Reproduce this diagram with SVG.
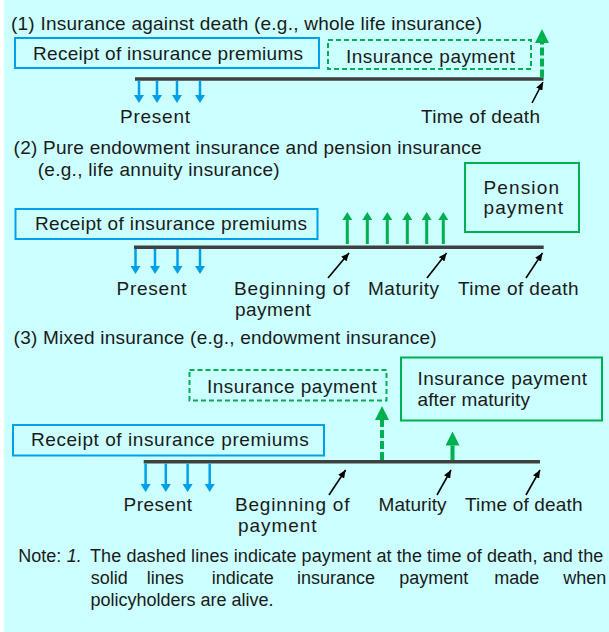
<svg xmlns="http://www.w3.org/2000/svg" width="609" height="632" viewBox="0 0 609 632">
<style>
text{font-family:"Liberation Sans",Arial,sans-serif;font-size:19px;fill:#1a1a1a}
#note text{font-size:18px}
.bb{fill:none;stroke:#00A0E9;stroke-width:2}
.gs{fill:none;stroke:#00B050;stroke-width:2}
.gd{fill:none;stroke:#00B050;stroke-width:2;stroke-dasharray:5 3}
.tl{stroke:#404040;stroke-width:3.5}
.ab{stroke:#00A0E9;stroke-width:2.5;marker-end:url(#hb)}
.ag{stroke:#00B050;stroke-width:3;marker-end:url(#hg)}
.agl{stroke:#00B050;stroke-width:4;marker-end:url(#hgl)}
.agd{stroke:#00B050;stroke-width:4;stroke-dasharray:8 3;marker-end:url(#hgl)}
.ak{stroke:#000;stroke-width:1.6;marker-end:url(#hk)}
</style>
<defs>
<marker id="hb" viewBox="0 0 8 10" markerWidth="8" markerHeight="10" refX="0" refY="5" orient="auto" markerUnits="userSpaceOnUse"><path d="M0,0L8,5L0,10z" fill="#00A0E9"/></marker>
<marker id="hg" viewBox="0 0 8 10" markerWidth="8" markerHeight="10" refX="0" refY="5" orient="auto" markerUnits="userSpaceOnUse"><path d="M0,0L8,5L0,10z" fill="#00B050"/></marker>
<marker id="hgl" viewBox="0 0 14 14" markerWidth="14" markerHeight="14" refX="0" refY="7" orient="auto" markerUnits="userSpaceOnUse"><path d="M0,0L14,7L0,14z" fill="#00B050"/></marker>
<marker id="hk" viewBox="0 0 8 7" markerWidth="8" markerHeight="7" refX="8" refY="3.5" orient="auto" markerUnits="userSpaceOnUse"><path d="M0,0L8,3.5L0,7z" fill="#000"/></marker>
</defs>
<rect x="4" y="0" width="605" height="632" fill="#CCFFFF"/>

<g id="titles">
<text x="11" y="30" textLength="471">(1) Insurance against death (e.g., whole life insurance)</text>
<text x="13.6" y="154" textLength="468">(2) Pure endowment insurance and pension insurance</text>
<text x="37.7" y="176" textLength="242">(e.g., life annuity insurance)</text>
<text x="13.6" y="344" textLength="423">(3) Mixed insurance (e.g., endowment insurance)</text>
</g>

<g id="s1-premiums"><rect class="bb" x="15" y="38" width="304" height="30"/><text x="33" y="60" textLength="270">Receipt of insurance premiums</text></g>
<g id="s1-payment"><rect class="gd" x="328" y="40" width="203" height="29"/><text x="346" y="62.5" textLength="169">Insurance payment</text></g>
<g id="s2-premiums"><rect class="bb" x="15.5" y="209" width="302" height="30"/><text x="35" y="230" textLength="272">Receipt of insurance premiums</text></g>
<g id="s2-pension"><rect class="gs" x="465" y="163" width="114" height="69"/><text x="483.5" y="194" textLength="75.5">Pension</text><text x="483.5" y="214" textLength="79.5">payment</text></g>
<g id="s3-premiums"><rect class="bb" x="13" y="425" width="311" height="30.5"/><text x="31" y="446" textLength="277.7">Receipt of insurance premiums</text></g>
<g id="s3-payment"><rect class="gd" x="189.5" y="370" width="197" height="30.5"/><text x="207" y="392.7" textLength="169.7">Insurance payment</text></g>
<g id="s3-after"><rect class="gs" x="401" y="357.5" width="201" height="63"/><text x="417.5" y="385" textLength="169.5">Insurance payment</text><text x="417.5" y="406" textLength="112.5">after maturity</text></g>

<g id="labels">
<text x="120" y="122.5" textLength="70">Present</text>
<text x="421" y="122.5" textLength="119">Time of death</text>
<text x="116.5" y="295" textLength="70">Present</text>
<text x="234" y="295" textLength="115.5">Beginning of</text>
<text x="235" y="316" textLength="75.7">payment</text>
<text x="368" y="295" textLength="71">Maturity</text>
<text x="458" y="295" textLength="120.6">Time of death</text>
<text x="123.5" y="511" textLength="68.5">Present</text>
<text x="235" y="511" textLength="114.5">Beginning of</text>
<text x="238" y="532" textLength="78.5">payment</text>
<text x="378.6" y="511" textLength="68">Maturity</text>
<text x="465" y="511" textLength="117.5">Time of death</text>
</g>

<g id="connectors">
<line class="tl" x1="135" y1="79" x2="543.5" y2="79"/>
<line class="ab" x1="139" y1="81" x2="139" y2="95"/>
<line class="ab" x1="157" y1="81" x2="157" y2="95"/>
<line class="ab" x1="177" y1="81" x2="177" y2="95"/>
<line class="ab" x1="200" y1="81" x2="200" y2="95"/>
<line class="agd" x1="542" y1="77.5" x2="542" y2="43"/>
<line class="ak" x1="532" y1="103" x2="543" y2="82"/>

<line class="tl" x1="134" y1="247.3" x2="543.7" y2="247.3"/>
<line class="ab" x1="135.5" y1="249" x2="135.5" y2="266"/>
<line class="ab" x1="155" y1="249" x2="155" y2="266"/>
<line class="ab" x1="177.5" y1="249" x2="177.5" y2="266"/>
<line class="ab" x1="200" y1="249" x2="200" y2="266"/>
<line class="ag" x1="347.3" y1="244" x2="347.3" y2="220"/>
<line class="ag" x1="367.3" y1="244" x2="367.3" y2="220"/>
<line class="ag" x1="387.3" y1="244" x2="387.3" y2="220"/>
<line class="ag" x1="407.3" y1="244" x2="407.3" y2="220"/>
<line class="ag" x1="426.7" y1="244" x2="426.7" y2="220"/>
<line class="ag" x1="443.3" y1="244" x2="443.3" y2="220"/>
<line class="ak" x1="328" y1="278" x2="349" y2="253"/>
<line class="ak" x1="427" y1="278" x2="446.6" y2="253"/>
<line class="ak" x1="526" y1="278" x2="542.5" y2="253"/>

<line class="tl" x1="143.7" y1="461.7" x2="540" y2="461.7"/>
<line class="ab" x1="145.6" y1="463.5" x2="145.6" y2="484"/>
<line class="ab" x1="165.8" y1="463.5" x2="165.8" y2="484"/>
<line class="ab" x1="187.6" y1="463.5" x2="187.6" y2="484"/>
<line class="ab" x1="209.7" y1="463.5" x2="209.7" y2="484"/>
<line class="agd" x1="382" y1="460" x2="382" y2="420"/>
<line class="agl" x1="452.5" y1="460" x2="452.5" y2="445.5"/>
<line class="ak" x1="329" y1="495" x2="345.6" y2="470"/>
<line class="ak" x1="437" y1="495" x2="451" y2="470"/>
<line class="ak" x1="526" y1="495" x2="540" y2="470"/>
</g>

<g id="note">
<text x="18.3" y="562">Note:</text>
<text x="66.7" y="562" font-style="italic">1.</text>
<text x="90" y="562" textLength="513.3">The dashed lines indicate payment at the time of death, and the</text>
<text x="90.7" y="584">solid</text>
<text x="146.7" y="584">lines</text>
<text x="211.7" y="584">indicate</text>
<text x="297" y="584">insurance</text>
<text x="399.3" y="584">payment</text>
<text x="494.3" y="584">made</text>
<text x="563.3" y="584">when</text>
<text x="90.5" y="606">policyholders are alive.</text>
</g>
</svg>
